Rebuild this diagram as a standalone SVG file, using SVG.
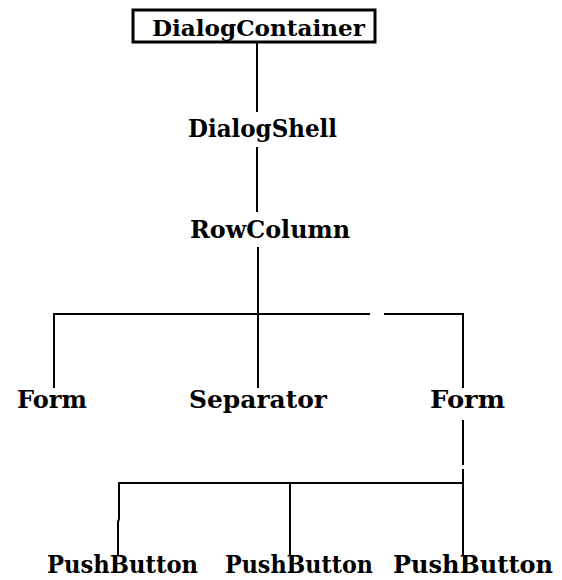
<svg xmlns="http://www.w3.org/2000/svg" width="562" height="580" viewBox="0 0 562 580">
  <style>
    .lbl { font-family: "DejaVu Serif", "Liberation Serif", serif; font-weight: bold; font-size: 23.5px; fill: #000; }
    .title { font-size: 22px; }
    .edge { stroke: #000; stroke-width: 2; fill: none; }
    .frame { fill: #fff; stroke: #000; stroke-width: 3; }
  </style>
  <rect width="562" height="580" fill="#fff"/>

  <!-- tree connectors -->
  <g id="connectors">
    <line class="edge" x1="257" y1="43" x2="257" y2="112"/>
    <line class="edge" x1="257" y1="147" x2="257" y2="212"/>
    <line class="edge" x1="258" y1="247" x2="258" y2="388"/>
    <!-- first-level bus (broken segment near the right) -->
    <line class="edge" x1="53" y1="314" x2="370" y2="314"/>
    <line class="edge" x1="384" y1="314" x2="463" y2="314"/>
    <line class="edge" x1="54" y1="313" x2="54" y2="388"/>
    <line class="edge" x1="463" y1="313" x2="463" y2="388"/>
    <!-- second-level bus under the right Form -->
    <line class="edge" x1="463" y1="420" x2="463" y2="465"/>
    <line class="edge" x1="463" y1="469" x2="463" y2="556"/>
    <line class="edge" x1="118" y1="483" x2="463" y2="483"/>
    <polyline class="edge" points="119,482 119,519 118,522 118,556"/>
    <line class="edge" x1="290" y1="482" x2="290" y2="556"/>
  </g>

  <g id="dialogContainer">
    <rect class="frame" x="133" y="10" width="242" height="32"/>
    <text class="lbl title" x="152" y="36" textLength="213" lengthAdjust="spacingAndGlyphs">DialogContainer</text>
  </g>
  <g id="dialogShell">
    <text class="lbl" x="188" y="137" textLength="149" lengthAdjust="spacingAndGlyphs">DialogShell</text>
  </g>
  <g id="rowColumn">
    <text class="lbl" x="190" y="238" textLength="160" lengthAdjust="spacingAndGlyphs">RowColumn</text>
  </g>
  <g id="formLeft">
    <text class="lbl" x="17" y="408" textLength="70" lengthAdjust="spacingAndGlyphs">Form</text>
  </g>
  <g id="separator">
    <text class="lbl" x="189" y="408" textLength="138" lengthAdjust="spacingAndGlyphs">Separator</text>
  </g>
  <g id="formRight">
    <text class="lbl" x="430" y="408" textLength="75" lengthAdjust="spacingAndGlyphs">Form</text>
  </g>
  <g id="pushButton1">
    <text class="lbl" x="47" y="573" textLength="151" lengthAdjust="spacingAndGlyphs">PushButton</text>
  </g>
  <g id="pushButton2">
    <text class="lbl" x="225" y="573" textLength="148" lengthAdjust="spacingAndGlyphs">PushButton</text>
  </g>
  <g id="pushButton3">
    <text class="lbl" x="393" y="573" textLength="160" lengthAdjust="spacingAndGlyphs">PushButton</text>
  </g>
</svg>
